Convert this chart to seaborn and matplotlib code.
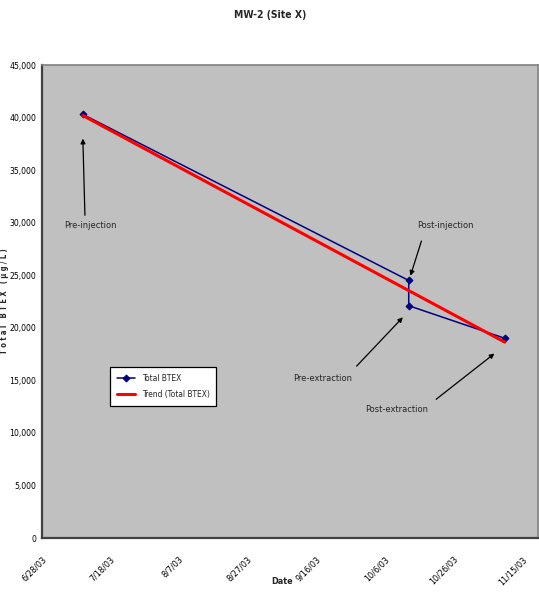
import numpy as np
import pandas as pd

import matplotlib
matplotlib.use("Agg")
import matplotlib.pyplot as plt
import matplotlib.dates as mdates
import seaborn as sns

# Dados
dates = ["2003-07-10", "2003-10-13", "2003-10-13", "2003-11-10"]
btex = [40300, 24500, 22100, 19000]
events = ["Pre-injection", "Post-injection", "Pre-extraction", "Post-extraction"]

tick_dates = ["2003-06-28", "2003-07-18", "2003-08-07", "2003-08-27",
              "2003-09-16", "2003-10-06", "2003-10-26", "2003-11-15"]
y_ticks = [0, 5000, 10000, 15000, 20000, 25000, 30000, 35000, 40000, 45000]

df = pd.DataFrame({"date": pd.to_datetime(dates), "btex": btex, "event": events})
df["num"] = mdates.date2num(df["date"])

sns.set_style("white")
plt.rcParams["font.family"] = ["DejaVu Sans"]
plt.rcParams["font.stretch"] = "condensed"

fig = plt.figure(figsize=(5.39, 5.97), dpi=100)
ax = fig.add_axes([41.7 / 539, 1 - 538 / 597, 496 / 539, 473 / 597])
ax.set_facecolor("#C0C0C0")

# Série medida
sns.lineplot(data=df, x="num", y="btex", estimator=None, sort=False,
             color="#000080", linewidth=1.1, marker="D", markersize=3.5,
             markeredgecolor="#000080", label="Total BTEX", ax=ax)

# Linha de tendência (regressão linear, como no Excel)
sns.regplot(data=df, x="num", y="btex", ci=None, scatter=False,
            label="Trend (Total BTEX)",
            line_kws={"color": "#FF0000", "linewidth": 2.2}, ax=ax)

start = mdates.date2num(pd.Timestamp("2003-06-28"))
ax.set_xlim(start, start + 144.6)
ax.set_ylim(0, 45000)

ax.set_xticks(mdates.date2num(pd.to_datetime(tick_dates)))
ax.xaxis.set_major_formatter(mdates.DateFormatter("%-m/%-d/%y"))
ax.set_yticks(y_ticks)
ax.set_yticklabels([f"{v:,}" for v in y_ticks])

plt.setp(ax.get_xticklabels(), rotation=45, ha="right", rotation_mode="anchor")
ax.tick_params(axis="x", direction="out", length=4, width=1, pad=8, labelsize=6.5, colors="#000000")
ax.tick_params(axis="y", direction="out", length=3, width=1, pad=1, labelsize=6.2, colors="#000000")

for side in ["top", "right"]:
    ax.spines[side].set_color("#808080")
    ax.spines[side].set_linewidth(1.2)
for side in ["left", "bottom"]:
    ax.spines[side].set_color("#404040")
    ax.spines[side].set_linewidth(1.6)

ax.set_xlabel("Date", fontsize=6.5, fontweight="bold")
ax.xaxis.set_label_coords((282 - 41.7) / 496, -(577 - 538) / 473)
ax.set_ylabel("T o t a l   B T E X   ( µ g / L )", fontsize=5.5, fontweight="bold")
ax.yaxis.set_label_coords(-(41.7 - 9) / 496, 0.5)

fig.text(270 / 539, 1 - 15 / 597, "MW-2 (Site X)", ha="center", va="center",
         fontsize=7.5, fontweight="bold")

# Anotações (dias desde 6/28/03, valor): texto, cauda, ponta
notes = [
    ("Pre-injection", (14.1, 29700), (12.6, 30700), (12.0, 38000)),
    ("Post-injection", (117.8, 29700), (110.7, 28250), (107.5, 24950)),
    ("Pre-extraction", (81.9, 15200), (91.8, 16350), (105.3, 21000)),
    ("Post-extraction", (103.4, 12250), (115.0, 13200), (132.0, 17550)),
]
for label, txt, tail, head in notes:
    ax.text(start + txt[0], txt[1], label, ha="center", va="center", fontsize=6.7)
    ax.annotate("", xy=(start + head[0], head[1]), xytext=(start + tail[0], tail[1]),
                arrowprops=dict(arrowstyle="-|>", color="black", lw=0.9,
                                mutation_scale=7, shrinkA=0, shrinkB=0))

leg = ax.legend(loc="upper left", bbox_to_anchor=((110 - 41.7) / 496, (538 - 367) / 473),
                borderaxespad=0, fancybox=False, framealpha=1, edgecolor="black",
                fontsize=6, handlelength=2.2, borderpad=0.8, labelspacing=0.9)
leg.get_frame().set_linewidth(0.9)

fig.savefig("out.png", dpi=100)
